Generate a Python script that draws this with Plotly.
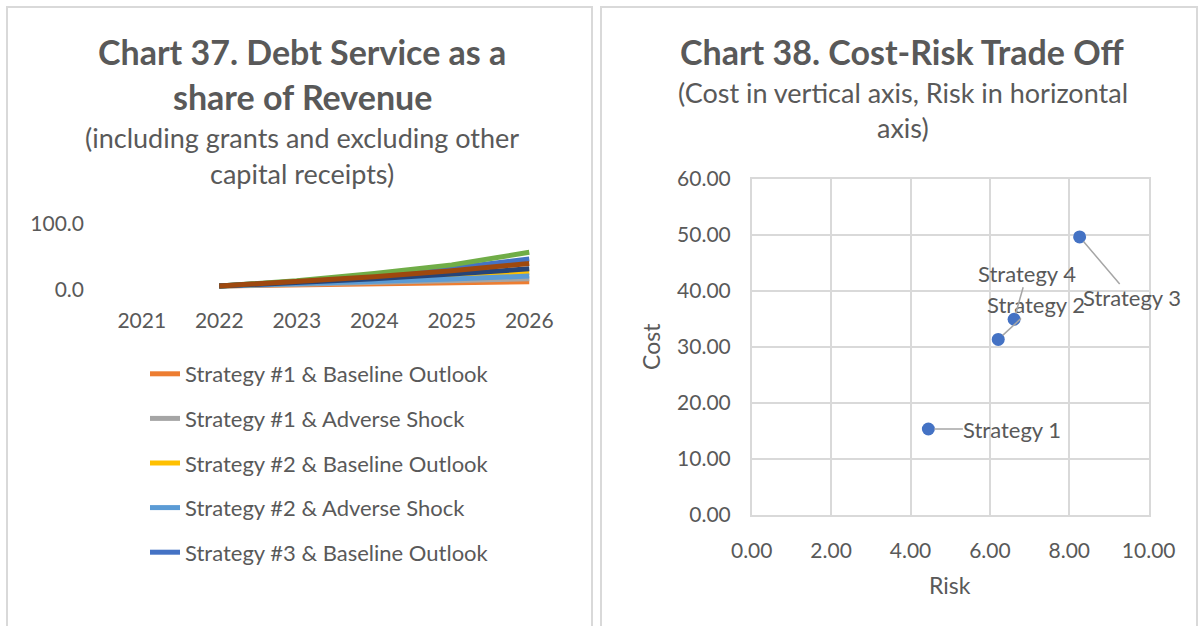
import plotly.graph_objects as go

# ---------------- data ----------------
years = ["2021", "2022", "2023", "2024", "2025", "2026"]
series_names = [
    "Strategy #1 & Baseline Outlook",
    "Strategy #1 & Adverse Shock",
    "Strategy #2 & Baseline Outlook",
    "Strategy #2 & Adverse Shock",
    "Strategy #3 & Baseline Outlook",
    "Strategy #3 & Adverse Shock",
    "Strategy #4 & Baseline Outlook",
    "Strategy #4 & Adverse Shock",
]
s1_base = [None, 5.0, 6.5, 8.0, 9.5, 11.5]
s1_adv = [None, 5.0, 7.5, 10.0, 13.0, 16.0]
s2_base = [None, 5.0, 8.5, 13.0, 19.0, 26.0]
s2_adv = [None, 5.0, 8.0, 11.5, 15.5, 20.0]
s3_base = [None, 5.0, 12.0, 21.0, 32.0, 46.0]
s3_adv = [None, 5.0, 13.0, 24.0, 37.0, 56.0]
s4_base = [None, 5.0, 10.0, 16.0, 23.0, 31.0]
s4_adv = [None, 5.0, 11.5, 19.0, 28.0, 39.0]
series_values = [s1_base, s1_adv, s2_base, s2_adv, s3_base, s3_adv, s4_base, s4_adv]
series_colors = ["#ED7D31", "#A5A5A5", "#FFC000", "#5B9BD5",
                 "#4472C4", "#70AD47", "#264478", "#9E480E"]
legend_visible = [True, True, True, True, True, False, False, False]

strategies = ["Strategy 1", "Strategy 2", "Strategy 3", "Strategy 4"]
risk = [4.45, 6.21, 8.26, 6.61]
cost = [15.3, 31.3, 49.6, 34.9]
label_offsets = [(84, 0), (38, -35), (52, 61), (13, -46)]

y1_ticks = [0, 100]
x2_ticks = [0, 2, 4, 6, 8, 10]
y2_ticks = [0, 10, 20, 30, 40, 50, 60]

W, H = 1200, 626
TXT = "#595959"
FONT = "Lato"

def px(x):
    return x / W

def py(y):
    return 1 - y / H

fig = go.Figure()

for i, (name, vals, col) in enumerate(zip(series_names, series_values, series_colors)):
    fig.add_trace(go.Scatter(
        x=years, y=vals, mode="lines", name=name,
        line=dict(color=col, width=5),
        showlegend=legend_visible[i], legendgroup=f"g{i}",
        xaxis="x", yaxis="y",
    ))

fig.add_trace(go.Scatter(
    x=risk, y=cost, mode="markers", name="Cost-Risk",
    marker=dict(color="#4472C4", size=13),
    showlegend=False, xaxis="x2", yaxis="y2",
))

annotations = []
for s, xr, yc, (ax, ay) in zip(strategies, risk, cost, label_offsets):
    annotations.append(dict(
        x=xr, y=yc, xref="x2", yref="y2", text=s, showarrow=True,
        arrowhead=0, arrowwidth=1.5, arrowcolor="#A6A6A6",
        ax=ax, ay=ay, standoff=6, borderpad=0,
        font=dict(family=FONT, size=22, color=TXT),
    ))

def add_text(text, x, y, size, bold=False, angle=0):
    annotations.append(dict(
        x=px(x), y=py(y), xref="paper", yref="paper", text=(f"<b>{text}</b>" if bold else text),
        showarrow=False, xanchor="center", yanchor="middle", textangle=angle,
        font=dict(family=FONT, size=size, color=TXT),
    ))

add_text("Chart 37. Debt Service as a", 302, 52, 34, bold=True)
add_text("share of Revenue", 302, 97, 34, bold=True)
add_text("(including grants and excluding other", 302, 138, 27)
add_text("capital receipts)", 302, 173, 27)
add_text("Chart 38. Cost-Risk Trade Off", 903, 52, 34, bold=True)
add_text("(Cost in vertical axis, Risk in horizontal", 903, 93, 27)
add_text("axis)", 903, 127, 27)
add_text("Cost", 651, 347, 23, angle=-90)
add_text("Risk", 950, 585, 23)

shapes = [
    dict(type="rect", xref="paper", yref="paper", x0=px(7), x1=px(592), y0=-0.1, y1=py(7),
         line=dict(color="#D9D9D9", width=2), layer="below"),
    dict(type="rect", xref="paper", yref="paper", x0=px(601), x1=px(1197), y0=-0.1, y1=py(7),
         line=dict(color="#D9D9D9", width=2), layer="below"),
]

tickfont = dict(family=FONT, size=21, color=TXT)

fig.update_layout(
    width=W, height=H,
    margin=dict(l=0, r=0, t=0, b=0, pad=0, autoexpand=False),
    paper_bgcolor="white", plot_bgcolor="white",
    showlegend=True,
    legend=dict(
        x=px(145), y=py(353), xanchor="left", yanchor="top",
        font=dict(family=FONT, size=22, color=TXT),
        traceorder="grouped", tracegroupgap=13,
        bgcolor="rgba(0,0,0,0)",
    ),
    xaxis=dict(
        domain=[px(103), px(568)], type="category", categoryorder="array",
        categoryarray=years, tickvals=years, range=[-0.5, 5.5],
        showgrid=False, zeroline=False,
        showline=False, ticks="", tickfont=tickfont, ticklabelstandoff=17,
        anchor="y", automargin=False,
    ),
    yaxis=dict(
        domain=[py(289.3), py(223.3)], range=[0, 100], tickvals=y1_ticks,
        tickformat=".1f", showgrid=True, gridcolor="#D9D9D9", gridwidth=1.5,
        zeroline=False, showline=False, ticks="", tickfont=tickfont,
        anchor="x", ticklabelstandoff=18, automargin=False,
    ),
    xaxis2=dict(
        domain=[px(751.7), px(1148.7)], range=[0, 10], tickvals=x2_ticks,
        tickformat=".2f", showgrid=True, gridcolor="#D9D9D9", gridwidth=1.5,
        zeroline=False, showline=True, linecolor="#D9D9D9", linewidth=1.5, mirror=True,
        ticks="", tickfont=tickfont, ticklabelstandoff=16, anchor="y2", automargin=False,
    ),
    yaxis2=dict(
        domain=[py(514.7), py(178.7)], range=[0, 60], tickvals=y2_ticks,
        tickformat=".2f", showgrid=True, gridcolor="#D9D9D9", gridwidth=1.5,
        zeroline=False, showline=True, linecolor="#D9D9D9", linewidth=1.5, mirror=True,
        ticks="", tickfont=tickfont, ticklabelstandoff=15, anchor="x2", automargin=False,
    ),
    annotations=annotations,
    shapes=shapes,
)

fig.write_html("out.html")
